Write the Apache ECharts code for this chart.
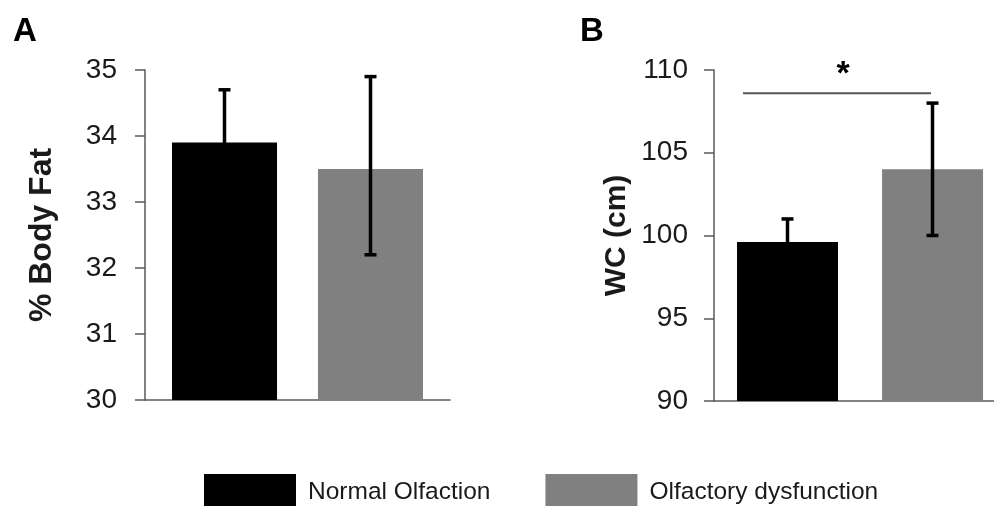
<!DOCTYPE html>
<html>
<head>
<meta charset="utf-8">
<script src="https://cdn.jsdelivr.net/npm/echarts@6/dist/echarts.min.js"></script>
<style>html,body{margin:0;padding:0;background:#fff}#c{width:994px;height:506px}</style>
</head>
<body>
<div id="c"></div>
<script>
var groups = ['Normal Olfaction', 'Olfactory dysfunction'];
var groupColors = ['#000000', '#808080'];
// Panel A: % Body Fat
var fatMean = [33.9, 33.5];
var fatLow = [33.1, 32.2];
var fatHigh = [34.7, 34.9];
var fatTicks = {min: 30, max: 35, interval: 1};
// Panel B: WC (cm)
var wcMean = [99.6, 104];
var wcLow = [98.2, 100];
var wcHigh = [101, 108];
var wcTicks = {min: 90, max: 110, interval: 5};
var sigLevel = 108.6;
var sigLabel = '*';

var FONT = 'Liberation Sans, Arial, sans-serif';
var AX = '#595959';
var TXT = '#1a1a1a';

var chart = echarts.init(document.getElementById('c'), null, {renderer: 'canvas'});

function yAxisFor(gi, t, name, gap, margin, nameSize) {
  return {
    type: 'value', gridIndex: gi, min: t.min, max: t.max, interval: t.interval,
    name: name, nameLocation: 'middle', nameGap: gap, nameRotate: 90,
    nameTextStyle: {fontFamily: FONT, fontSize: nameSize, fontWeight: 'bold', color: TXT},
    axisLine: {show: true, lineStyle: {color: AX, width: 1.5}},
    axisTick: {show: true, length: 10, inside: false, lineStyle: {color: AX, width: 1.5}},
    axisLabel: {fontFamily: FONT, fontSize: 28, color: TXT, margin: margin},
    splitLine: {show: false}
  };
}
function xAxisFor(gi) {
  return {
    type: 'category', gridIndex: gi, data: [''],
    axisLine: {show: true, lineStyle: {color: AX, width: 1.5}},
    axisTick: {show: false}, axisLabel: {show: false}, splitLine: {show: false}
  };
}
function barSeries(gi, vals, bw, gap) {
  return groups.map(function (g, i) {
    return {
      type: 'bar', name: g, xAxisIndex: gi, yAxisIndex: gi,
      data: [vals[i]], barWidth: bw, barGap: gap,
      itemStyle: {color: groupColors[i]}, z: 2, silent: true
    };
  });
}
// empty leading slot that nudges panel B's bar pair to the right
var spacerB = {
  type: 'bar', name: 'spacer', xAxisIndex: 1, yAxisIndex: 1,
  data: ['-'], barWidth: 8.4, barGap: '43.6%', silent: true
};
function errSeries(gi, low, high, offsets) {
  return {
    type: 'custom', xAxisIndex: gi, yAxisIndex: gi, z: 5, silent: true,
    data: groups.map(function (g, i) { return [0, low[i], high[i], i]; }),
    renderItem: function (params, api) {
      var i = api.value(3);
      var pL = api.coord([0, api.value(1)]);
      var pH = api.coord([0, api.value(2)]);
      var x = pL[0] + offsets[i];
      var cap = 6;
      var st = {stroke: '#000', lineWidth: 3.5};
      return {type: 'group', children: [
        {type: 'line', shape: {x1: x, y1: pL[1], x2: x, y2: pH[1]}, style: st},
        {type: 'line', shape: {x1: x - cap, y1: pH[1], x2: x + cap, y2: pH[1]}, style: st},
        {type: 'line', shape: {x1: x - cap, y1: pL[1], x2: x + cap, y2: pL[1]}, style: st}
      ]};
    }
  };
}
var sigSeries = {
  type: 'custom', xAxisIndex: 1, yAxisIndex: 1, z: 6, silent: true,
  data: [[0, sigLevel]],
  renderItem: function (params, api) {
    var p = api.coord([0, api.value(1)]);
    var x1 = p[0] - 111, x2 = p[0] + 77;
    return {type: 'group', children: [
      {type: 'line', shape: {x1: x1, y1: p[1], x2: x2, y2: p[1]}, style: {stroke: '#555', lineWidth: 2}},
      {type: 'text', style: {text: sigLabel, x: x1 + 100, y: p[1] - 2, align: 'center', verticalAlign: 'bottom',
        fontFamily: FONT, fontSize: 34, fontWeight: 'bold', fill: '#000'}}
    ]};
  }
};

var option = {
  animation: false,
  backgroundColor: '#fff',
  title: [
    {text: 'A', left: 13, top: 15, padding: 0, textStyle: {fontFamily: FONT, fontSize: 33, fontWeight: 'bold', color: '#000'}},
    {text: 'B', left: 580, top: 15, padding: 0, textStyle: {fontFamily: FONT, fontSize: 33, fontWeight: 'bold', color: '#000'}}
  ],
  legend: {
    left: 204, top: 474, padding: 0, itemWidth: 92, itemHeight: 36, itemGap: 55,
    icon: 'rect', selectedMode: false,
    data: groups,
    textStyle: {fontFamily: FONT, fontSize: 24.5, color: TXT, padding: [4, 0, 0, 7]}
  },
  grid: [
    {left: 145, top: 70, width: 305, height: 330, containLabel: false},
    {left: 714, top: 70, width: 280, height: 331, containLabel: false}
  ],
  xAxis: [xAxisFor(0), xAxisFor(1)],
  yAxis: [yAxisFor(0, fatTicks, '% Body Fat', 87, 28, 32), yAxisFor(1, wcTicks, 'WC (cm)', 82, 26, 30)],
  series: [].concat(
    barSeries(0, fatMean, 105, '39%'),
    [spacerB],
    barSeries(1, wcMean, 101, '43.6%'),
    [errSeries(0, fatLow, fatHigh, [-73, 73]), errSeries(1, wcLow, wcHigh, [-66.5, 78.5]), sigSeries]
  )
};
chart.setOption(option);
</script>
</body>
</html>
